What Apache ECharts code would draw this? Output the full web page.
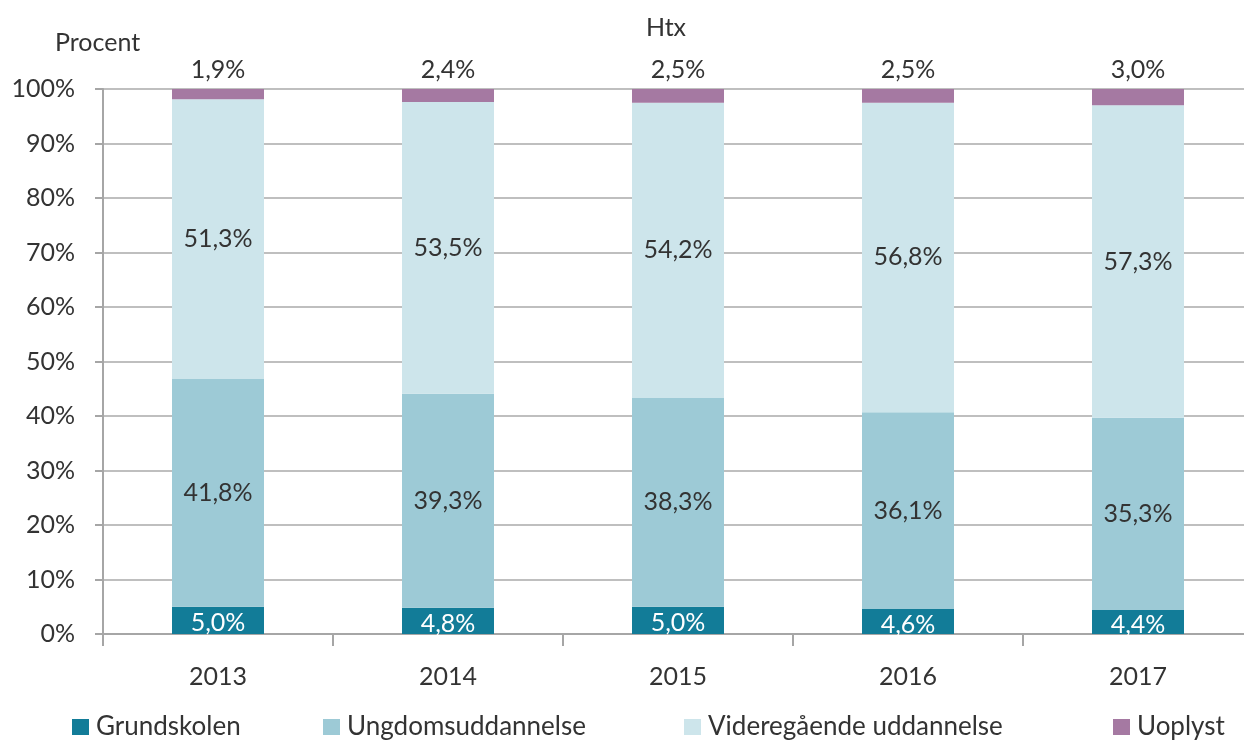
<!DOCTYPE html>
<html><head><meta charset="utf-8">
<script src="https://cdn.jsdelivr.net/npm/echarts@6/dist/echarts.min.js"></script>
<style>html,body{margin:0;padding:0;background:#fff}#c{width:1244px;height:740px}</style>
</head><body><div id="c"></div>
<script>
const years = ['2013','2014','2015','2016','2017'];
const seriesNames = ['Grundskolen','Ungdomsuddannelse','Videregående uddannelse','Uoplyst'];
const grundskolen = [5.0, 4.8, 5.0, 4.6, 4.4];
const ungdom = [41.8, 39.3, 38.3, 36.1, 35.3];
const videregaaende = [51.3, 53.5, 54.2, 56.8, 57.3];
const uoplyst = [1.9, 2.4, 2.5, 2.5, 3.0];
const yTicks = [0,10,20,30,40,50,60,70,80,90,100];

const colors = ['#127C98', '#9DCAD6', '#CDE5EB', '#A579A2'];
const font = 'Lato, "Noto Sans", sans-serif';
const txt = '#333333';
const fs = 25;
const fmt = v => v.toFixed(1).replace('.', ',') + '%';
const values = [grundskolen, ungdom, videregaaende, uoplyst];

const chart = echarts.init(document.getElementById('c'));
const series = values.map((arr, i) => ({
  name: seriesNames[i],
  type: 'bar',
  stack: 'total',
  barWidth: '40%',
  data: arr,
  itemStyle: { color: colors[i] },
  label: {
    show: true,
    position: i === 3 ? 'top' : 'inside',
    distance: 7,
    formatter: p => fmt(p.value),
    fontFamily: font,
    fontSize: fs,
    color: i === 0 ? '#ffffff' : txt,
    offset: i === 0 ? [0, 3] : [0, 0]
  }
}));

const legendPos = [67, 318, 679, 1108];
chart.setOption({
  animation: false,
  textStyle: { fontFamily: font },
  title: [
    { text: 'Htx', left: 661, top: 10, textAlign: 'center', textStyle: { fontFamily: font, fontSize: fs, fontWeight: 'normal', color: txt } },
    { text: 'Procent', left: 50, top: 25, textStyle: { fontFamily: font, fontSize: fs, fontWeight: 'normal', color: txt } }
  ],
  legend: seriesNames.map((n, i) => ({
    data: [n], left: legendPos[i], top: 709,
    itemWidth: 17, itemHeight: 16, itemGap: 5,
    textStyle: { fontFamily: font, fontSize: 26, color: txt, padding: [0,0,0,2] },
    icon: 'rect'
  })),
  grid: { left: 103, top: 89, width: 1150, height: 545, containLabel: false, outerBoundsMode: 'none' },
  xAxis: {
    type: 'category',
    data: years,
    axisLine: { lineStyle: { color: '#A6A6A6', width: 2 } },
    axisTick: { show: true, length: 12, lineStyle: { color: '#A6A6A6', width: 2 } },
    axisLabel: { margin: 30, fontFamily: font, fontSize: fs, color: txt }
  },
  yAxis: {
    type: 'value', min: 0, max: 100, interval: 10,
    axisLine: { show: true, lineStyle: { color: '#A6A6A6', width: 2 } },
    axisTick: { show: true, length: 8, lineStyle: { color: '#A6A6A6', width: 2 } },
    splitLine: { show: true, lineStyle: { color: '#BFBFBF', width: 2 } },
    axisLabel: { margin: 28, fontFamily: font, fontSize: fs, color: txt,
      formatter: v => yTicks.includes(v) ? v + '%' : '' }
  },
  series: series
});
</script></body></html>
